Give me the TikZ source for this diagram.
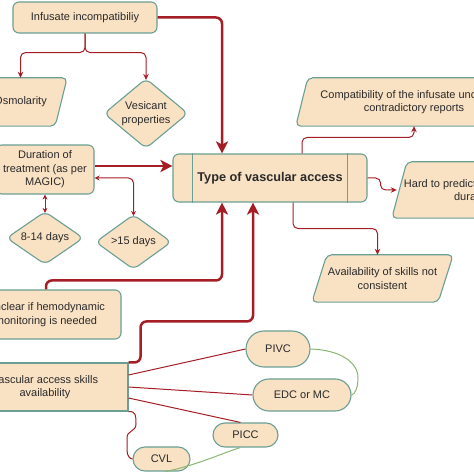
\documentclass[tikz,border=0pt]{standalone}
\usepackage{fontspec}
\setmainfont{Liberation Sans}
\usetikzlibrary{shapes.geometric,shapes.misc,arrows.meta,backgrounds}
\definecolor{peach}{HTML}{F9E1C4}
\definecolor{bordc}{HTML}{6A9F94}
\definecolor{darkred}{HTML}{A51E26}
\definecolor{leaf}{HTML}{8DB672}
\definecolor{txt}{HTML}{2A2A2A}
\begin{document}
\begin{tikzpicture}[x=1pt,y=1pt,
 base/.style={font=\fontsize{11}{13.5}\selectfont, text=txt, align=center, inner sep=0pt},
 shapeline/.style={draw=bordc, fill=peach, line width=1.1pt},
 rbox/.style={base, shapeline, rounded corners=6pt},
 sbox/.style={base, shapeline},
 dia/.style={base, shapeline, diamond, rounded corners=6pt},
 capsule/.style={base, shapeline, rounded rectangle},
 thickred/.style={draw=darkred, line width=2.5pt, rounded corners=6pt, -{Stealth[length=12pt,width=12pt,inset=3pt]}},
 thinred/.style={draw=darkred, line width=1pt, rounded corners=5pt},
 thinarrow/.style={thinred, -{Stealth[length=6pt,width=5.5pt]}},
 dblarrow/.style={thinred, {Stealth[length=5pt,width=5pt]}-{Stealth[length=5pt,width=5pt]}},
 greenline/.style={draw=leaf, line width=1pt}
]
\useasboundingbox (0,0) rectangle (474,474);
\clip (0,0) rectangle (474,474);

% nodes
\node[rbox, minimum width=144pt, minimum height=31pt] (inf) at (85,456.5) {Infusate incompatibiliy};
\node[base, minimum width=93pt, minimum height=48pt] (osm) at (20.5,372) {Osmolarity};
\node[dia, aspect=1.22, minimum width=84pt, minimum height=70pt] (ves) at (146,360.5) {Vesicant\\properties};
\node[rbox, minimum width=98pt, minimum height=49pt] (dur) at (45,304.5) {Duration of\\treatment (as per\\MAGIC)};
\node[rbox, font=\bfseries\fontsize{12.7}{15}\selectfont, minimum width=194pt, minimum height=48pt] (t) at (270,296) {Type of vascular access};
\node[dia, aspect=1.48, minimum width=77pt, minimum height=53pt] (d814) at (45,236) {8-14 days};
\node[dia, aspect=1.4, minimum width=76pt, minimum height=55pt] (g15) at (133.5,232) {>15 days};
\node[rbox, minimum width=150pt, minimum height=49pt] (unc) at (46,159.5) {Unclear if hemodynamic\\monitoring is needed};
\node[sbox, minimum width=166pt, minimum height=48pt] (vas) at (45,87) {Vascular access skills\\availability};
\node[base, minimum width=236pt, minimum height=48pt] (comp) at (414,372) {Compatibility of the infusate unclear or\\contradictory reports};
\node[base, minimum width=164pt, minimum height=56pt] (hard) at (474,284) {Hard to predict the treatment\\duration};
\node[base, minimum width=141pt, minimum height=47pt] (avail) at (382.5,195.5) {Availability of skills not\\consistent};
\node[capsule, minimum width=64pt, minimum height=36pt] (pivc) at (278,125) {PIVC};
\node[capsule, minimum width=98pt, minimum height=32pt] (edc) at (302,79) {EDC or MC};
\node[capsule, minimum width=65pt, minimum height=24pt] (picc) at (245.5,39) {PICC};
\node[capsule, minimum width=57pt, minimum height=24pt] (cvl) at (161.5,15) {CVL};

% parallelogram outlines and inner bars
\begin{scope}[on background layer]
\fill[white] (0,0) rectangle (474,474);
\draw[shapeline, rounded corners=5pt] ([xshift=12pt]osm.north west) -- (osm.north east) -- ([xshift=-12pt]osm.south east) -- (osm.south west) -- cycle;
\draw[shapeline, rounded corners=5pt] ([xshift=12pt]comp.north west) -- (comp.north east) -- ([xshift=-12pt]comp.south east) -- (comp.south west) -- cycle;
\draw[shapeline, rounded corners=5pt] ([xshift=15pt]hard.north west) -- (hard.north east) -- ([xshift=-15pt]hard.south east) -- (hard.south west) -- cycle;
\draw[shapeline, rounded corners=5pt] ([xshift=15pt]avail.north west) -- (avail.north east) -- ([xshift=-15pt]avail.south east) -- (avail.south west) -- cycle;
\end{scope}
\draw[draw=bordc, line width=1.1pt] ([xshift=20pt]t.north west) -- ([xshift=20pt]t.south west);
\draw[draw=bordc, line width=1.1pt] ([xshift=-20pt]t.north east) -- ([xshift=-20pt]t.south east);

% connectors
\draw[thickred] (inf.east) -| ([xshift=-48pt]t.north);
\draw[thinarrow] (inf.south) -- ++(0,-19) -| (osm.north);
\draw[thinarrow] (inf.south) -- ++(0,-19) -| ([yshift=-2pt]ves.north);
\draw[thickred] ([yshift=3.5pt]dur.east) -- ([yshift=12pt]t.west);
\draw[dblarrow] ([yshift=-8.5pt]dur.east) -| ([yshift=-2pt]g15.north);
\draw[dblarrow] (dur.south) -- ([yshift=-2pt]d814.north);
\draw[thickred] (unc.north) -- ++(0,9) -| ([xshift=-48pt]t.south);
\draw[thickred] (vas.north east) -- ++(12,0) -- ++(0,41) -| ([xshift=-17pt]t.south);
\draw[thinarrow] ([xshift=32pt]t.north) -- ++(0,16) -| (comp.south);
\draw[thinarrow] (t.east) -- ++(13,0) |- ([xshift=5pt]hard.west);
\draw[thinarrow] ([xshift=23pt]t.south) -- ++(0,-26) -| ([xshift=-5pt]avail.north);
\draw[thinred] ([yshift=12pt]vas.east) -- (pivc.west);
\draw[thinred] (vas.east) -- (edc.west);
\draw[thinred] ([yshift=-11pt]vas.east) -- ([xshift=-5pt]picc.north);
\draw[thinred, rounded corners=0pt] (vas.south east) .. controls (136,63) and (136,58) .. (136,50) .. controls (136,42) and (127,44) .. (127,36) -- (127,24) .. controls (127,18) and (130,15) .. (cvl.west);
\draw[greenline] (pivc.east) .. controls (340,124) and (358,112) .. (358,96) .. controls (358,86) and (355,80) .. (edc.east);
\draw[greenline] ([xshift=-5pt]picc.south) .. controls (225,22) and (195,8) .. ([xshift=-13pt]cvl.south east);
\end{tikzpicture}
\end{document}
